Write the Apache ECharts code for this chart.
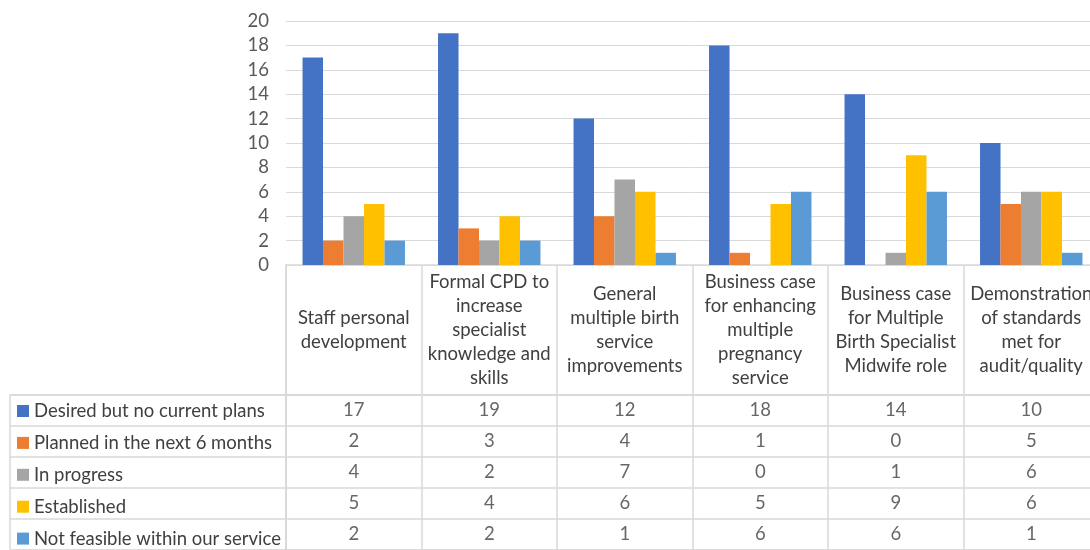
<!DOCTYPE html>
<html><head><meta charset="utf-8">
<script src="https://cdn.jsdelivr.net/npm/echarts@6/dist/echarts.min.js"></script>
<style>html,body{margin:0;padding:0;background:#fff;overflow:hidden}#c{width:1099px;height:550px}</style>
</head><body><div id="c"></div>
<script>
const categories = [
  'Staff personal\ndevelopment',
  'Formal CPD to\nincrease\nspecialist\nknowledge and\nskills',
  'General\nmultiple birth\nservice\nimprovements',
  'Business case\nfor enhancing\nmultiple\npregnancy\nservice',
  'Business case\nfor Multiple\nBirth Specialist\nMidwife role',
  'Demonstration\nof standards\nmet for\naudit/quality'
];
const seriesNames = ['Desired but no current plans','Planned in the next 6 months','In progress','Established','Not feasible within our service'];
const desired = [17, 19, 12, 18, 14, 10];
const planned = [2, 3, 4, 1, 0, 5];
const inProgress = [4, 2, 7, 0, 1, 6];
const established = [5, 4, 6, 5, 9, 6];
const notFeasible = [2, 2, 1, 6, 6, 1];
const yTicks = {min: 0, max: 20, interval: 2};
const colors = ['#4472C4','#ED7D31','#A5A5A5','#FFC000','#5B9BD5'];

const allValues = [desired, planned, inProgress, established, notFeasible];
const FONT = 'Lato';
const FS = 18.5;
const lineC = '#d9d9d9';
const tableLeft = 286, tableRight = 0;

const cellData = [];
allValues.forEach((arr, r) => arr.forEach((v, c) => cellData.push([c, r, v])));

const chart = echarts.init(document.getElementById('c'));
chart.setOption({
  animation: false,
  color: colors,
  textStyle: {fontFamily: FONT},
  legend: {
    data: seriesNames, orient: 'vertical', left: 17, top: 401.5, padding: 0, height: 200,
    itemWidth: 12, itemHeight: 12, itemGap: 12.9, icon: 'rect',
    textStyle: {fontFamily: FONT, fontSize: FS, color: '#404040'},
    selectedMode: false
  },
  grid: [
    {left: tableLeft, right: tableRight, top: 21, height: 244},
    {left: tableLeft, right: tableRight, top: 265, height: 130, show: true, borderColor: lineC, borderWidth: 1.5},
    {left: tableLeft, right: tableRight, top: 395, height: 158.5, show: true, borderColor: lineC, borderWidth: 1.5},
    {left: 10, width: 276, top: 395, height: 158.5, show: true, borderColor: lineC, borderWidth: 1.5}
  ],
  xAxis: [
    {type: 'category', data: categories, gridIndex: 0, axisLine: {show: false}, axisTick: {show: false},
     axisLabel: {interval: 0, margin: 65, verticalAlign: 'middle', fontFamily: FONT, fontSize: FS, color: '#404040', lineHeight: 24, align: 'center'}},
    {type: 'category', data: categories, gridIndex: 1, axisLine: {show: false}, axisTick: {show: false}, axisLabel: {show: false},
     splitLine: {show: true, lineStyle: {color: lineC, width: 1.5}}},
    {type: 'category', data: categories, gridIndex: 2, axisLine: {show: false}, axisTick: {show: false}, axisLabel: {show: false},
     splitLine: {show: true, lineStyle: {color: lineC, width: 1.5}}},
    {type: 'value', gridIndex: 3, show: false}
  ],
  yAxis: [
    {type: 'value', gridIndex: 0, min: yTicks.min, max: yTicks.max, interval: yTicks.interval,
     axisLine: {show: false}, axisTick: {show: false},
     axisLabel: {fontFamily: FONT, fontSize: FS, color: '#595959', margin: 17},
     splitLine: {lineStyle: {color: lineC, width: 1}}},
    {type: 'value', gridIndex: 1, show: false},
    {type: 'category', data: seriesNames, inverse: true, gridIndex: 2, axisLine: {show: false}, axisTick: {show: false}, axisLabel: {show: false},
     splitLine: {show: true, lineStyle: {color: lineC, width: 1.5}}},
    {type: 'category', data: seriesNames, inverse: true, gridIndex: 3, axisLine: {show: false}, axisTick: {show: false}, axisLabel: {show: false},
     splitLine: {show: true, lineStyle: {color: lineC, width: 1.5}}}
  ],
  series: seriesNames.map((n, i) => ({
    name: n, type: 'bar', xAxisIndex: 0, yAxisIndex: 0, data: allValues[i],
    barGap: '0%', barCategoryGap: '24.4%', itemStyle: {color: colors[i]}
  })).concat([{
    name: 'table', type: 'scatter', xAxisIndex: 2, yAxisIndex: 2, symbolSize: 0, data: cellData,
    label: {show: true, position: 'inside', formatter: p => String(p.value[2]), fontFamily: FONT, fontSize: FS, color: '#404040'},
    silent: true
  }])
});
</script></body></html>
